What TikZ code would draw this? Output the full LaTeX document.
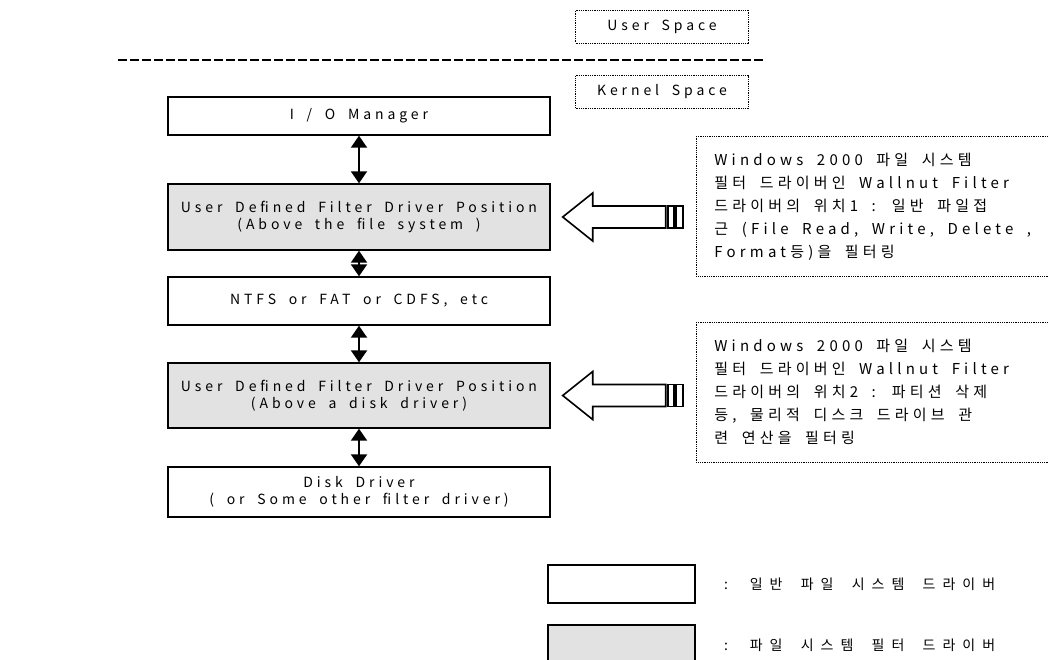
\documentclass[tikz,border=0pt]{standalone}
\usepackage{fontspec}
\newfontfamily\krfont{Noto Sans CJK KR}[LetterSpace=28, WordSpace=1.8]
\newfontfamily\legfont{Noto Sans CJK KR}[LetterSpace=50, WordSpace=1.8]
\usetikzlibrary{arrows.meta,positioning}
\definecolor{FilterGray}{RGB}{226,226,226}

\begin{document}
\begin{tikzpicture}[x=1pt, y=-1pt,
  every node/.style={font=\krfont\fontsize{14}{17}\selectfont},
  drvbox/.style={draw, line width=1.4pt, minimum width=382pt, inner sep=0pt, align=center},
  fltbox/.style={drvbox, fill=FilterGray},
  spacebox/.style={draw, line width=0.7pt, dash pattern=on 1pt off 0.8pt, minimum width=173pt, minimum height=33pt, inner sep=0pt},
  notebox/.style={draw, line width=0.7pt, dash pattern=on 1pt off 0.8pt, anchor=north west, minimum width=356pt, minimum height=140pt, text width=320pt, inner xsep=18pt, align=flush left, font=\krfont\fontsize{15}{23}\selectfont},
  legtext/.style={font=\legfont\fontsize{14}{17}\selectfont},
  dbl/.style={{Triangle[width=16pt,length=12pt]}-{Triangle[width=16pt,length=12pt]}, line width=2pt},
  hollow/.style={draw, line width=1.6pt, fill=white, line join=miter}]
\useasboundingbox (0,0) rectangle (1048,659);

% user / kernel space
\node[spacebox] (user) at (662,26.5) {User Space};
\coordinate (sepL) at (118,60);
\coordinate (sepR) at (763,60);
\draw[line width=1.5pt, dash pattern=on 9pt off 3pt] (sepL) -- (sepR);
\node[spacebox] (kernel) at (662,92) {Kernel Space};

% driver stack
\node[drvbox, minimum height=38pt] (io) at (359,116) {I / O Manager};
\node[fltbox, minimum height=66pt] (f1) at (359,217) {User Defined Filter Driver Position\\(Above the file system )};
\node[drvbox, minimum height=48pt] (ntfs) at (359,301) {NTFS or FAT or CDFS, etc};
\node[fltbox, minimum height=65pt] (f2) at (359,395.5) {User Defined Filter Driver Position\\(Above a disk driver)};
\node[drvbox, minimum height=50pt] (disk) at (359,492) {Disk Driver\\( or Some other filter driver)};

\draw[dbl] (io.south) -- (f1.north);
\draw[dbl] (f1.south) -- (ntfs.north);
\draw[dbl] (ntfs.south) -- (f2.north);
\draw[dbl] (f2.south) -- (disk.north);

% notes
\node[notebox] (note1) at (696,136) {Windows 2000 파일 시스템\\필터 드라이버인 Wallnut Filter\\드라이버의 위치1 : 일반 파일접\\근 (File Read, Write, Delete ,\\Format등)을 필터링};
\node[notebox] (note2) at (696,322) {Windows 2000 파일 시스템\\필터 드라이버인 Wallnut Filter\\드라이버의 위치2 : 파티션 삭제\\등, 물리적 디스크 드라이브 관\\련 연산을 필터링};

% big arrows
\coordinate (tip1) at ([xshift=12pt]f1.east);
\draw[hollow] (tip1) -- ++(30,-24) -- ++(0,13) -- ++(73,0) -- ++(0,22) -- ++(-73,0) -- ++(0,13) -- cycle;
\draw[hollow] ([shift={(105,-11)}]tip1) rectangle ++(6,22);
\draw[hollow] ([shift={(113,-11)}]tip1) rectangle ++(7,22);
\coordinate (tip2) at ([xshift=12pt]f2.east);
\draw[hollow] (tip2) -- ++(30,-24) -- ++(0,13) -- ++(73,0) -- ++(0,22) -- ++(-73,0) -- ++(0,13) -- cycle;
\draw[hollow] ([shift={(105,-11)}]tip2) rectangle ++(6,22);
\draw[hollow] ([shift={(113,-11)}]tip2) rectangle ++(7,22);

% legend
\node[drvbox, minimum width=147pt, minimum height=38pt] (leg1) at (621.5,584) {};
\node[fltbox, minimum width=147pt, minimum height=40pt] (leg2) at (621.5,645) {};
\node[legtext, right=25pt of leg1] (leg1txt) {: 일반 파일 시스템 드라이버};
\node[legtext, right=25pt of leg2] (leg2txt) {: 파일 시스템 필터 드라이버};
\end{tikzpicture}
\end{document}
